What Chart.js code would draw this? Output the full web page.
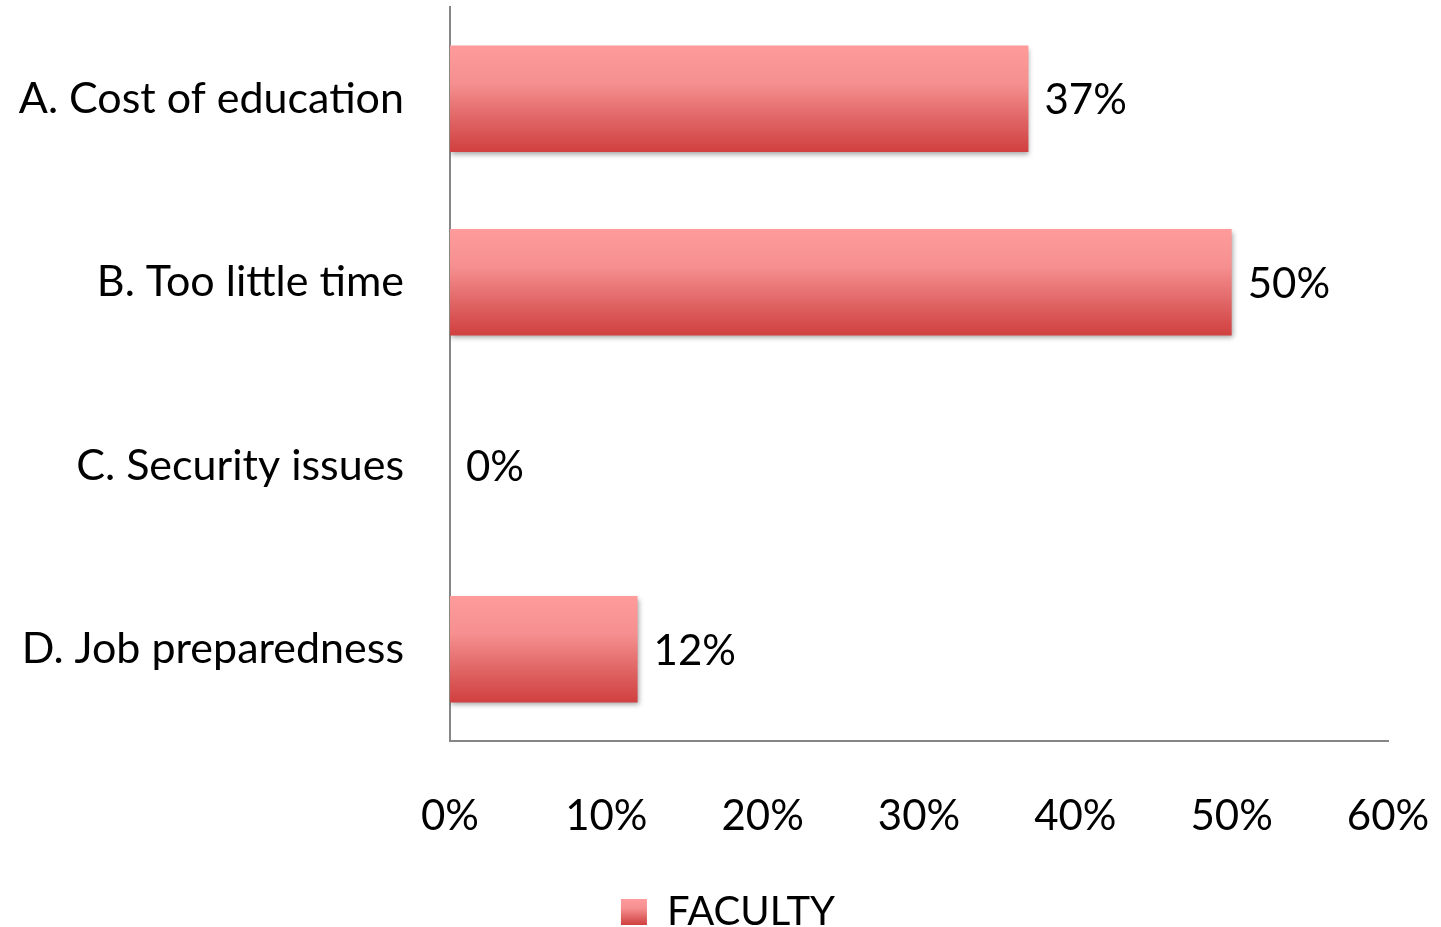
<!DOCTYPE html>
<html>
<head>
<meta charset="utf-8">
<script src="https://cdn.jsdelivr.net/npm/chart.js@4"></script>
<style>
  body { margin: 0; background: #fff; }
</style>
</head>
<body>
<canvas id="barChart" width="1441" height="927"></canvas>
<script>
// data
const categories = ['A. Cost of education', 'B. Too little time', 'C. Security issues', 'D. Job preparedness'];
const facultyValues = [37, 50, 0, 12];
const xTicks = [0, 10, 20, 30, 40, 50, 60];

const fontName = 'Lato, "Open Sans", sans-serif';
const barPct = 0.58;

function barGradient(ctx, top, bottom) {
    const g = ctx.createLinearGradient(0, top, 0, bottom);
    g.addColorStop(0, '#ff9b9b');
    g.addColorStop(0.35, '#f69090');
    g.addColorStop(0.7, '#e06464');
    g.addColorStop(1, '#d0403f');
    return g;
}

// gradient for every bar, worked out from the y scale
function barFill(context) {
    const chart = context.chart;
    const yScale = chart.scales.y;
    if (!yScale || context.dataIndex === undefined) return '#e06464';
    const center = yScale.getPixelForValue(context.dataIndex);
    const h = (yScale.bottom - yScale.top) / categories.length * barPct;
    if (!isFinite(center) || !isFinite(h) || h <= 0) return '#e06464';
    return barGradient(chart.ctx, center - h / 2, center + h / 2);
}

// shadow under the bars
const barShadow = {
    id: 'barShadow',
    beforeDatasetDraw(chart) {
        const ctx = chart.ctx;
        ctx.save();
        ctx.shadowColor = 'rgba(0,0,0,0.35)';
        ctx.shadowOffsetY = 3;
        ctx.shadowOffsetX = 1;
        ctx.shadowBlur = 5;
    },
    afterDatasetDraw(chart) {
        chart.ctx.restore();
    }
};

// value labels right of the bars
const valueLabels = {
    id: 'valueLabels',
    afterDatasetsDraw(chart) {
        const ctx = chart.ctx;
        ctx.save();
        ctx.font = '42px ' + fontName;
        ctx.fillStyle = '#000';
        ctx.textAlign = 'left';
        ctx.textBaseline = 'middle';
        chart.getDatasetMeta(0).data.forEach((bar, i) => {
            ctx.fillText(facultyValues[i] + '%', bar.x + 16, bar.y + 2);
        });
        ctx.restore();
    }
};

// the legend sits a bit right of the canvas centre in the original
const legendShift = 34;

const legendBox = {
    id: 'legendBox',
    beforeDraw(chart) {
        const lg = chart.legend;
        lg.left += legendShift;
        lg.right += legendShift;
        (lg.legendHitBoxes || []).forEach(hb => { hb.left += legendShift; });
    },
    afterDraw(chart) {
        const hbs = chart.legend.legendHitBoxes;
        if (!hbs || !hbs.length) return;
        const hb = hbs[0];
        const ctx = chart.ctx;
        const size = 26;
        const top = hb.top + (hb.height - size) / 2;
        ctx.save();
        ctx.fillStyle = '#fff';
        ctx.fillRect(hb.left - 1, top - 1, size + 2, size + 2);
        ctx.fillStyle = barGradient(ctx, top, top + size);
        ctx.fillRect(hb.left, top, size, size);
        ctx.restore();
    }
};

const ctx = document.getElementById('barChart').getContext('2d');
const barChart = new Chart(ctx, {
    type: 'bar',
    data: {
        labels: categories,
        datasets: [
            {
                label: 'FACULTY',
                data: facultyValues,
                backgroundColor: barFill,
                borderWidth: 0,
                categoryPercentage: 1,
                barPercentage: barPct
            }
        ]
    },
    options: {
        indexAxis: 'y',
        responsive: false,
        animation: false,
        layout: {
            padding: { top: 7, right: 53, left: 0, bottom: -15 }
        },
        scales: {
            x: {
                min: 0,
                max: 60,
                afterBuildTicks(scale) {
                    scale.ticks = xTicks.map(v => ({ value: v }));
                },
                afterFit(scale) {
                    scale.height = 141;
                    scale.paddingLeft = 0;
                    scale.paddingRight = 0;
                },
                grid: { display: false, drawTicks: false },
                border: { display: true, color: '#868686', width: 2 },
                ticks: {
                    padding: 50,
                    color: '#000',
                    font: { family: fontName, size: 42 },
                    callback: v => v + '%'
                }
            },
            y: {
                afterFit(scale) {
                    scale.width = 450;
                    scale.paddingTop = 0;
                    scale.paddingBottom = 0;
                },
                grid: { display: false, drawTicks: false },
                border: { display: true, color: '#868686', width: 2 },
                ticks: {
                    padding: 46,
                    color: '#000',
                    font: { family: fontName, size: 43 }
                }
            }
        },
        plugins: {
            legend: {
                position: 'bottom',
                labels: {
                    color: '#000',
                    font: { family: fontName, size: 40 },
                    boxWidth: 26,
                    boxHeight: 26,
                    padding: 10
                }
            },
            tooltip: { enabled: false }
        }
    },
    plugins: [barShadow, valueLabels, legendBox]
});
</script>
</body>
</html>
